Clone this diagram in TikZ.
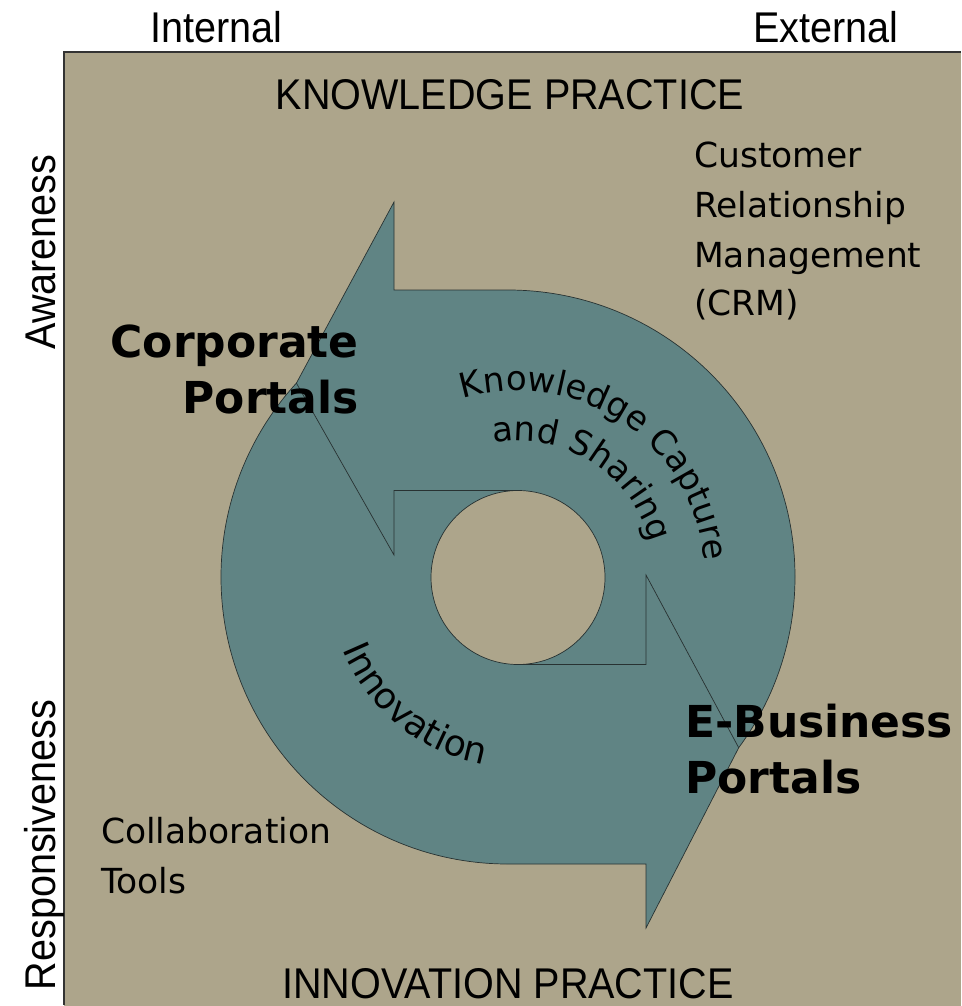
\documentclass[tikz,border=0pt]{standalone}
\usepackage{fontspec}
\setmainfont{DejaVu Sans}
\newfontfamily\narrowfont[FakeStretch=0.92]{Liberation Sans}
\usetikzlibrary{decorations.text,calc}
\definecolor{boxtan}{RGB}{173,165,139}
\definecolor{ringteal}{RGB}{96,132,132}
\definecolor{edgecol}{RGB}{40,50,50}
\newcommand\curvefont{\fontsize{34}{34}\selectfont}
\newcommand\innofont{\fontsize{36}{36}\selectfont}
\begin{document}
\begin{tikzpicture}[x=1pt,y=1pt,
  axislabel/.style={font=\narrowfont\fontsize{43}{43}\selectfont, inner sep=0pt, anchor=base},
  bodylabel/.style={font=\fontsize{34.5}{34.5}\selectfont, inner sep=0pt, anchor=base west},
  boldlabel/.style={font=\bfseries\fontsize{44}{44}\selectfont, inner sep=0pt},
  arrowline/.style={draw=edgecol, line width=0.7pt, line join=miter},
  curvetext/.style={decorate, decoration={text along path, text align=center, text={|\curvefont|#1}}},
  innotext/.style={decorate, decoration={text along path, text align=center, text={|\innofont|#1}}}]
\useasboundingbox (0,0) rectangle (961,-1006);
\fill[white] (0,0) rectangle (961,-1006);
\fill[boxtan] (64,-52) rectangle (961,-1006);
\draw[gray!40!black, line width=2pt] (64,-1005) -- (64,-52) -- (961,-52);

\coordinate (O) at (508,-577);
\coordinate (C) at (518,-577.5);
\coordinate (P1) at (394,-202);
\coordinate (P1b) at (394,-290);
\coordinate (Otop) at (508,-290);
\coordinate (T2) at ($(O)+(-36.5:287)$);
\coordinate (P4) at (646,-928);
\coordinate (P4b) at (646,-864);
\coordinate (Obot) at (508,-864);
\coordinate (T1) at ($(O)+(137.5:287)$);
\coordinate (P2) at (394,-555);
\coordinate (P2b) at (394,-490.5);
\coordinate (Itop) at (518,-490.5);
\coordinate (P3) at (646,-575);
\coordinate (P3b) at (646,-664.5);
\coordinate (Ibot) at (518,-664.5);

\fill[ringteal, even odd rule] (P1) -- (P1b) -- (Otop) arc[start angle=90, end angle=-36.5, radius=287]
  -- (P4) -- (P4b) -- (Obot) arc[start angle=270, end angle=137.5, radius=287] -- cycle
  (C) circle[radius=87];
\draw[arrowline] (P1) -- (P1b) -- (Otop) arc[start angle=90, end angle=-36.5, radius=287]
  -- (P4) -- (P4b) -- (Obot) arc[start angle=270, end angle=137.5, radius=287] -- cycle;
\draw[arrowline] (C) circle[radius=87];
\draw[arrowline] (T1) -- (P2) -- (P2b) -- (Itop);
\draw[arrowline] (T2) -- (P3) -- (P3b) -- (Ibot);

\path[curvetext={Knowledge Capture}] ($(C)+(110:187)$) arc[start angle=110, end angle=2, radius=187];
\path[curvetext={and Sharing}] ($(C)+(102:137)$) arc[start angle=102, end angle=13, radius=137];
\path[innotext={Innovation}] ($(C)+(198:190)$) arc[start angle=198, end angle=264, radius=190];

\node[axislabel] (internal) at (216,-43) {Internal};
\node[axislabel] (external) at (826,-43) {External};
\node[axislabel] (kp) at (510,-110) {KNOWLEDGE PRACTICE};
\node[axislabel] (ip) at (508,-998) {INNOVATION PRACTICE};
\node[axislabel, rotate=90] (aw) at (55,-252) {Awareness};
\node[axislabel, rotate=90] (resp) at (55,-845) {Responsiveness};

\node[bodylabel] (crm1) at (694,-167) {Customer};
\node[bodylabel] (crm2) at (694,-217) {Relationship};
\node[bodylabel] (crm3) at (694,-267) {Management};
\node[bodylabel] (crm4) at (694,-315) {(CRM)};

\node[boldlabel, anchor=base east] (cp1) at (359,-357) {Corporate};
\node[boldlabel, anchor=base east] (cp2) at (359,-413) {Portals};
\node[boldlabel, anchor=base west] (eb1) at (685,-737) {E-Business};
\node[boldlabel, anchor=base west] (eb2) at (685,-793) {Portals};

\node[bodylabel] (col1) at (101,-843) {Collaboration};
\node[bodylabel] (col2) at (101,-893) {Tools};
\end{tikzpicture}
\end{document}
